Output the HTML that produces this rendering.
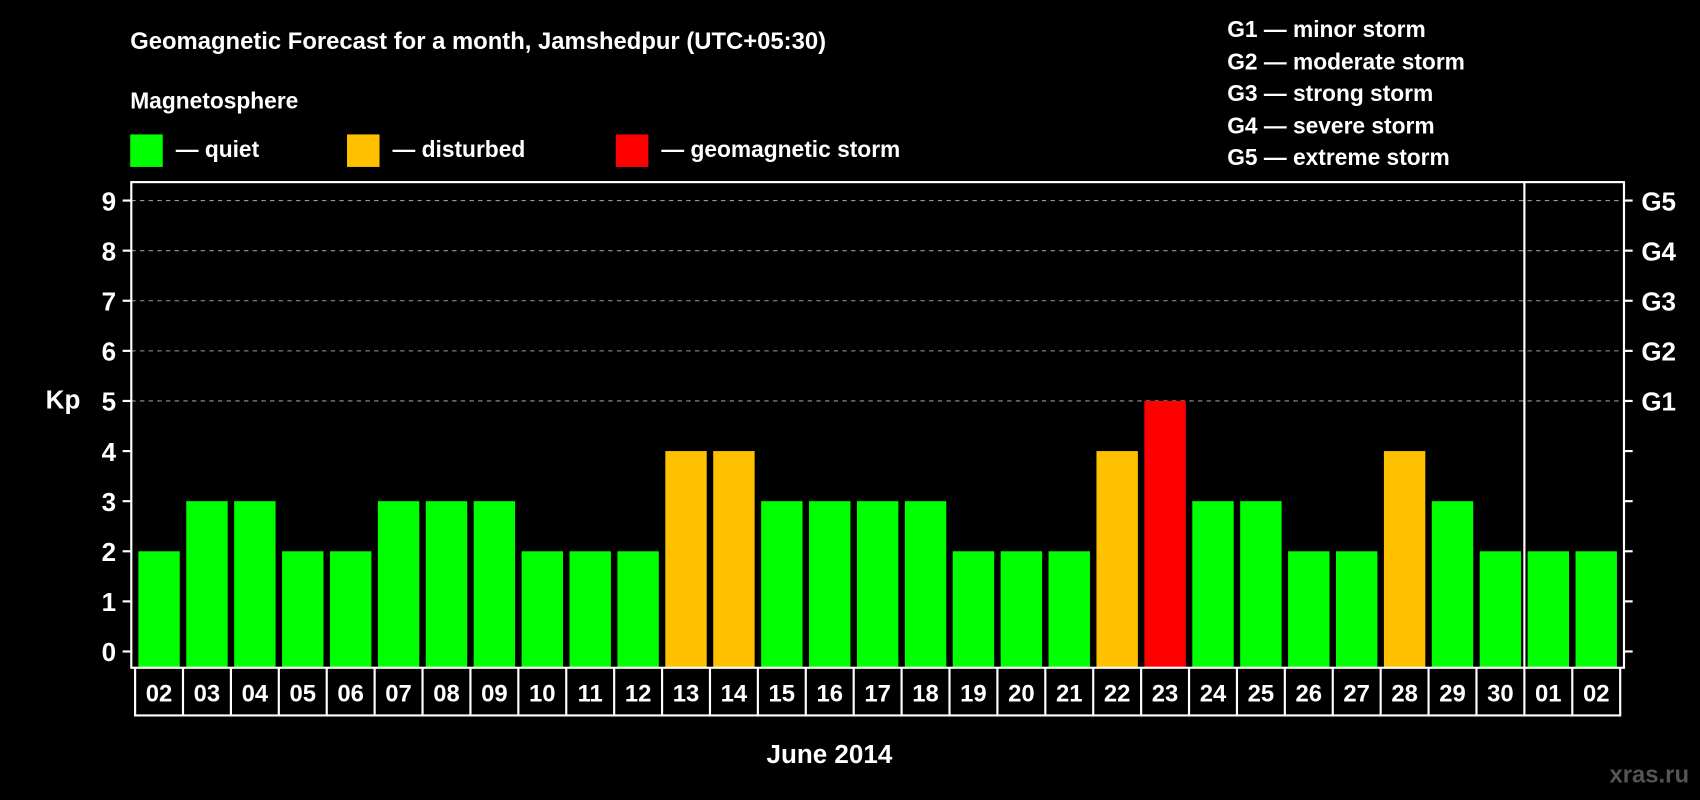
<!DOCTYPE html>
<html><head><meta charset="utf-8"><style>
html,body{margin:0;padding:0;background:#000;width:1700px;height:800px;overflow:hidden}
svg{display:block;font-family:"Liberation Sans",sans-serif;font-weight:bold}
</style></head><body>
<svg id="chart" width="1700" height="800" viewBox="0 0 1568 738" xmlns="http://www.w3.org/2000/svg">
<rect x="0" y="0" width="1568" height="738" fill="#000"/>
<text x="120" y="45" fill="#fff" font-size="22">Geomagnetic Forecast for a month, Jamshedpur (UTC+05:30)</text>
<text x="120" y="100" fill="#fff" font-size="21">Magnetosphere</text>
<g><rect x="120" y="124" width="30" height="30" fill="#00ff00"/><text x="162" y="145" fill="#fff" font-size="21">— quiet</text></g>
<g><rect x="320" y="124" width="30" height="30" fill="#ffc000"/><text x="362" y="145" fill="#fff" font-size="21">— disturbed</text></g>
<g><rect x="568" y="124" width="30" height="30" fill="#ff0000"/><text x="610" y="145" fill="#fff" font-size="21">— geomagnetic storm</text></g>
<g fill="#fff" font-size="21">
<text x="1132" y="34">G1 — minor storm</text>
<text x="1132" y="64">G2 — moderate storm</text>
<text x="1132" y="93">G3 — strong storm</text>
<text x="1132" y="123">G4 — severe storm</text>
<text x="1132" y="152">G5 — extreme storm</text>
</g>
<text x="58" y="377" fill="#fff" font-size="24" text-anchor="middle">Kp</text>
<text x="765" y="704" fill="#fff" font-size="24" text-anchor="middle">June 2014</text>
<text x="1558" y="722" fill="#555" font-size="22" text-anchor="end">xras.ru</text>
<g id="grid"></g>
<g id="bars"></g>
<g id="axes"></g>
</svg>
<script>
const days = ["02","03","04","05","06","07","08","09","10","11","12","13","14","15","16","17","18","19","20","21","22","23","24","25","26","27","28","29","30","01","02"];
const kpValues = [2,3,3,2,2,3,3,3,2,2,2,4,4,3,3,3,3,2,2,2,4,5,3,3,2,2,4,3,2,2,2];
const yTicks = [0,1,2,3,4,5,6,7,8,9];
const gLabels = ["G1","G2","G3","G4","G5"];
const monthBreakIndex = 29;

const NS="http://www.w3.org/2000/svg";
const L=121,R=1498,T=168,B=616;
const x0=124.5,x1=1494.5;
const pitch=(x1-x0)/days.length;
const yScale=v=>601-v*(601-185)/9;
const xLeft=i=>x0+i*pitch;
function mk(tag,attrs,parent){const e=document.createElementNS(NS,tag);for(const k in attrs)e.setAttribute(k,attrs[k]);parent.appendChild(e);return e;}
const grid=document.getElementById('grid'),bars=document.getElementById('bars'),axes=document.getElementById('axes');
function color(v){return v>=5?"#ff0000":(v>=4?"#ffc000":"#00ff00");}
yTicks.forEach(v=>{
  const y=yScale(v);
  if(v>=5){const g=mk('line',{x1:L,x2:R,y1:y,y2:y,stroke:'#999','stroke-width':1,'stroke-dasharray':'4,4'},grid);
  
  }
  mk('line',{x1:L-8,x2:L,y1:y,y2:y,stroke:'#fff','stroke-width':2},axes);
  mk('line',{x1:R,x2:R+8,y1:y,y2:y,stroke:'#fff','stroke-width':2},axes);
  const t=mk('text',{x:L-14,y:y+9,fill:'#fff','font-size':24,'text-anchor':'end'},axes);
  t.textContent=v;
  
  
});
gLabels.forEach((g,i)=>{
  const t=mk('text',{x:R+16,y:yScale(5+i)+9,fill:'#fff','font-size':24},axes);
  t.textContent=g;
  
  
});
kpValues.forEach((v,i)=>{
  const r=mk('rect',{x:xLeft(i)+3,y:yScale(v),width:pitch-6,height:yScale(0)+15-yScale(v),fill:color(v)},bars);
  
  
});
mk('rect',{x:L,y:T,width:R-L,height:B-T,fill:'none',stroke:'#fff','stroke-width':2},axes);
const sep=xLeft(monthBreakIndex);
mk('line',{x1:sep,x2:sep,y1:T,y2:B,stroke:'#fff','stroke-width':2},axes);
mk('line',{x1:x0,x2:x1,y1:660,y2:660,stroke:'#fff','stroke-width':2},axes);
for(let i=0;i<=days.length;i++){mk('line',{x1:xLeft(i),x2:xLeft(i),y1:B,y2:661,stroke:'#fff','stroke-width':2},axes);}
days.forEach((d,i)=>{
  const t=mk('text',{x:xLeft(i)+pitch/2,y:647,fill:'#fff','font-size':22,'text-anchor':'middle'},axes);
  t.textContent=d;
  
  
});
</script>
</body></html>
